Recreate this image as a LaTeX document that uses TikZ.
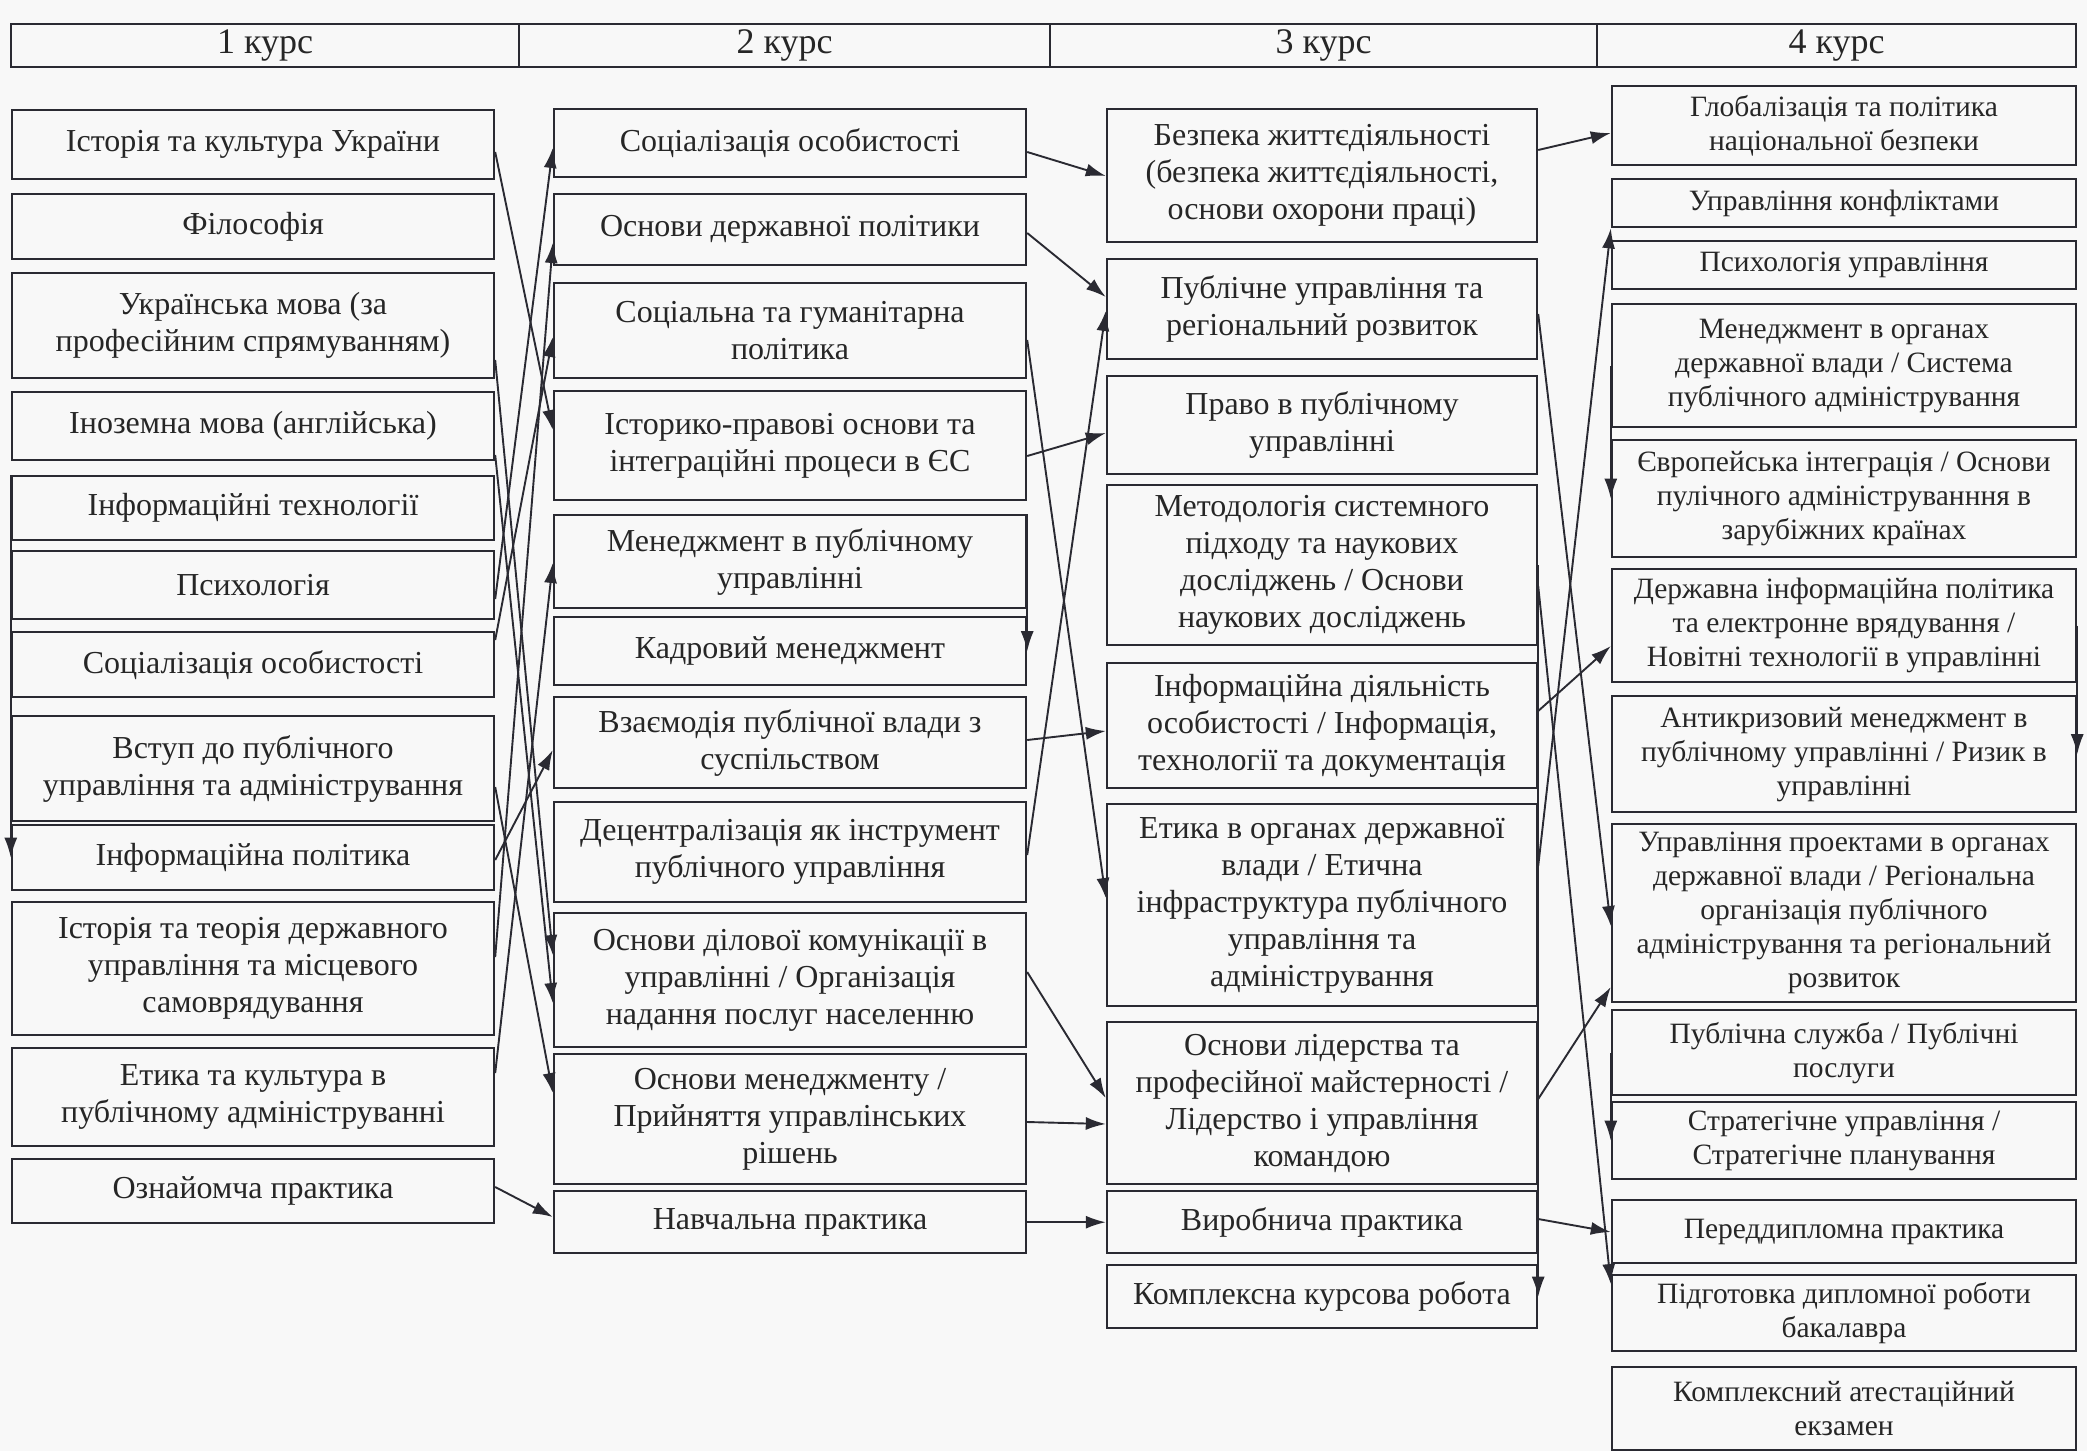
\documentclass[tikz,border=0pt]{standalone}
\usepackage{fontspec}
\setmainfont{Liberation Serif}
\usetikzlibrary{arrows.meta}
\definecolor{ink}{HTML}{2A2A32}
\definecolor{paper}{HTML}{F8F8F8}
\newcommand{\cellfont}{\fontsize{32}{37}\selectfont}
\newcommand{\lastfont}{\fontsize{29.5}{34}\selectfont}

\begin{document}
\begin{tikzpicture}[x=1pt, y=-1pt, >={Latex[length=20pt,width=13pt]},
    box/.style={draw=ink, line width=2.4pt, align=center, anchor=north, inner sep=2pt, font=\cellfont, text=black!85},
    first/.style={box, minimum width=482pt},
    second/.style={box, minimum width=472pt},
    third/.style={box, minimum width=430pt},
    fourth/.style={box, minimum width=464pt, font=\lastfont},
    head/.style={draw=ink, line width=2.4pt, minimum height=43pt, font=\fontsize{36}{40}\selectfont, text=black!85},
    link/.style={every edge/.style={draw=ink, line width=1.9pt, ->}}]
    \useasboundingbox[fill=paper] (0,0) rectangle (2087,1451);

    % Header
    \node[head, minimum width=508pt] (kurs1) at (265,45.5) {1 курс};
    \node[head, minimum width=531pt] (kurs2) at (784.5,45.5) {2 курс};
    \node[head, minimum width=547pt] (kurs3) at (1323.5,45.5) {3 курс};
    \node[head, minimum width=479pt] (kurs4) at (1836.5,45.5) {4 курс};

    % 1 course
    \node[first, minimum height=69pt] (c1a) at (253,109) {Історія та культура України};
    \node[first, minimum height=65pt] (c1b) at (253,193) {Філософія};
    \node[first, minimum height=105pt] (c1c) at (253,272) {Українська мова (за\\професійним спрямуванням)};
    \node[first, minimum height=68pt] (c1d) at (253,391) {Іноземна мова (англійська)};
    \node[first, minimum height=64pt] (c1e) at (253,475) {Інформаційні технології};
    \node[first, minimum height=68pt] (c1f) at (253,550) {Психологія};
    \node[first, minimum height=65pt] (c1g) at (253,631) {Соціалізація особистості};
    \node[first, minimum height=105pt] (c1h) at (253,715) {Вступ до публічного\\управління та адміністрування};
    \node[first, minimum height=65pt] (c1i) at (253,824) {Інформаційна політика};
    \node[first, minimum height=133pt] (c1j) at (253,901) {Історія та теорія державного\\управління та місцевого\\самоврядування};
    \node[first, minimum height=98pt] (c1k) at (253,1047) {Етика та культура в\\публічному адмініструванні};
    \node[first, minimum height=64pt] (c1l) at (253,1158) {Ознайомча практика};

    % 2 course
    \node[second, minimum height=68pt] (c2a) at (790,108) {Соціалізація особистості};
    \node[second, minimum height=71pt] (c2b) at (790,193) {Основи державної політики};
    \node[second, minimum height=95pt] (c2c) at (790,282) {Соціальна та гуманітарна\\політика};
    \node[second, minimum height=109pt] (c2d) at (790,390) {Історико-правові основи та\\інтеграційні процеси в ЄС};
    \node[second, minimum height=93pt] (c2e) at (790,514) {Менеджмент в публічному\\управлінні};
    \node[second, minimum height=68pt] (c2f) at (790,616) {Кадровий менеджмент};
    \node[second, minimum height=91pt] (c2g) at (790,696) {Взаємодія публічної влади з\\суспільством};
    \node[second, minimum height=100pt] (c2h) at (790,801) {Децентралізація як інструмент\\публічного управління};
    \node[second, minimum height=134pt] (c2i) at (790,912) {Основи ділової комунікації в\\управлінні / Організація\\надання послуг населенню};
    \node[second, minimum height=130pt] (c2j) at (790,1053) {Основи менеджменту /\\Прийняття управлінських\\рішень};
    \node[second, minimum height=62pt] (c2k) at (790,1190) {Навчальна практика};

    % 3 course
    \node[third, minimum height=133pt] (c3a) at (1322,108) {Безпека життєдіяльності\\(безпека життєдіяльності,\\основи охорони праці)};
    \node[third, minimum height=100pt] (c3b) at (1322,258) {Публічне управління та\\регіональний розвиток};
    \node[third, minimum height=98pt] (c3c) at (1322,375) {Право в публічному\\управлінні};
    \node[third, minimum height=160pt] (c3d) at (1322,484) {Методологія системного\\підходу та наукових\\досліджень / Основи\\наукових досліджень};
    \node[third, minimum height=125pt] (c3e) at (1322,662) {Інформаційна діяльність\\особистості / Інформація,\\технології та документація};
    \node[third, minimum height=202pt] (c3f) at (1322,803) {Етика в органах державної\\влади / Етична\\інфраструктура публічного\\управління та\\адміністрування};
    \node[third, minimum height=162pt] (c3g) at (1322,1021) {Основи лідерства та\\професійної майстерності /\\Лідерство і управління\\командою};
    \node[third, minimum height=62pt] (c3h) at (1322,1190) {Виробнича практика};
    \node[third, minimum height=63pt] (c3i) at (1322,1264) {Комплексна курсова робота};

    % 4 course
    \node[fourth, minimum height=79pt] (c4a) at (1844,85) {Глобалізація та політика\\національної безпеки};
    \node[fourth, minimum height=48pt] (c4b) at (1844,178) {Управління конфліктами};
    \node[fourth, minimum height=48pt] (c4c) at (1844,240) {Психологія управління};
    \node[fourth, minimum height=123pt] (c4d) at (1844,303) {Менеджмент в органах\\державної влади / Система\\публічного адміністрування};
    \node[fourth, minimum height=117pt] (c4e) at (1844,439) {Європейська інтеграція / Основи\\пулічного адмініструванння в\\зарубіжних країнах};
    \node[fourth, minimum height=113pt] (c4f) at (1844,568) {Державна інформаційна політика\\та електронне врядування /\\Новітні технології в управлінні};
    \node[fourth, minimum height=116pt] (c4g) at (1844,695) {Антикризовий менеджмент в\\публічному управлінні / Ризик в\\управлінні};
    \node[fourth, minimum height=178pt] (c4h) at (1844,823) {Управління проектами в органах\\державної влади / Регіональна\\організація публічного\\адміністрування та регіональний\\розвиток};
    \node[fourth, minimum height=85pt] (c4i) at (1844,1009) {Публічна служба / Публічні\\послуги};
    \node[fourth, minimum height=77pt] (c4j) at (1844,1101) {Стратегічне управління /\\Стратегічне планування};
    \node[fourth, minimum height=63pt] (c4k) at (1844,1199) {Переддипломна практика};
    \node[fourth, minimum height=76pt] (c4l) at (1844,1274) {Підготовка дипломної роботи\\бакалавра};
    \node[fourth, minimum height=83pt] (c4m) at (1844,1366) {Комплексний атестаційний\\екзамен};

    % Links 1 -> 2
    \path[link]
        (c1a.east |- 0,152) edge (c2d.west |- 0,430)
        (c1c.east |- 0,360) edge (c2i.west |- 0,955)
        (c1d.east |- 0,455) edge (c2i.west |- 0,1003)
        (c1f.east |- 0,599) edge (c2a.west |- 0,148)
        (c1g.east |- 0,640) edge (c2c.west |- 0,337)
        (c1h.east |- 0,787) edge (c2j.west |- 0,1093)
        (c1i.east |- 0,860) edge (c2g.west |- 0,750)
        (c1j.east |- 0,957) edge (c2b.west |- 0,243)
        (c1k.east |- 0,1073) edge (c2e.west |- 0,563)
        (c1l.east |- 0,1187) edge (c2k.west |- 0,1217);

    % Links 2 -> 3
    \path[link]
        (c2a.east |- 0,152) edge (c3a.west |- 0,176)
        (c2b.east |- 0,233) edge (c3b.west |- 0,297)
        (c2h.east |- 0,855) edge (c3b.west |- 0,311)
        (c2d.east |- 0,456) edge (c3c.west |- 0,433)
        (c2c.east |- 0,340) edge (c3f.west |- 0,898)
        (c2g.east |- 0,740) edge (c3e.west |- 0,731)
        (c2i.east |- 0,972) edge (c3g.west |- 0,1098)
        (c2j.east |- 0,1122) edge (c3g.west |- 0,1124)
        (c2k.east) edge (c3h.west);

    % Links 3 -> 4
    \path[link]
        (c3a.east |- 0,150) edge (c4a.west |- 0,133)
        (c3f.east |- 0,866) edge (c4b.south west)
        (c3b.east |- 0,314) edge (c4h.west |- 0,926)
        (c3d.east |- 0,586) edge (c4l.west |- 0,1284)
        (c3e.east |- 0,711) edge (c4f.west |- 0,646)
        (c3g.east |- 0,1099) edge (c4h.west |- 0,987)
        (c3h.east |- 0,1219) edge (c4k.west |- 0,1232);

    % Links along the box sides
    \path[link]
        (c1e.north west) edge (c1i.west)
        (c2e.north east) edge (c2f.east)
        (c3d.east) edge (c3i.east)
        (c4d.west) edge (c4e.west)
        (c4i.west) edge (c4j.west)
        (c4f.east) edge (c4g.east);
\end{tikzpicture}
\end{document}
